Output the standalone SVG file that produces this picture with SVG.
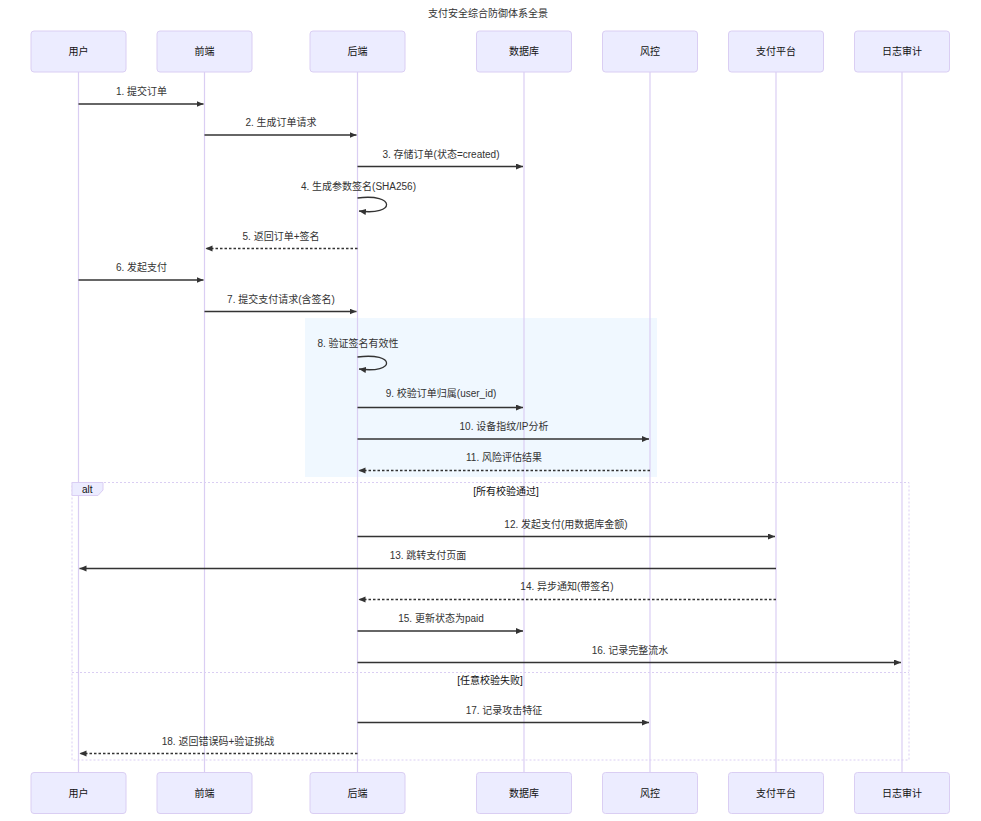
<svg xmlns="http://www.w3.org/2000/svg" width="981" height="821" viewBox="0 0 981 821">
<style>
text{font-family:"Liberation Sans","Noto Sans CJK SC",sans-serif;font-size:10px;fill:#333;}
.actor{fill:#ECECFF;stroke:#DACEF3;stroke-width:1;}
.actor-text{fill:#111;text-anchor:middle;dominant-baseline:central;}
.lifeline{stroke:#DACEF3;stroke-width:1.2;}
.msg{stroke:#333;stroke-width:1.3;fill:none;}
.dash{stroke-dasharray:2.5,2;}
.mt{text-anchor:middle;dominant-baseline:central;}
.loop{fill:none;stroke:#DACEF3;stroke-width:1;stroke-dasharray:2,2;}
</style>
<defs>
<marker id="ah" markerUnits="userSpaceOnUse" markerWidth="8" markerHeight="7" refX="7" refY="3" orient="auto" viewBox="0 0 8 7">
<path d="M0,0 L7,3 L0,6 z" fill="#333"/>
</marker>
</defs>
<rect width="981" height="821" fill="#fff"/>
<text x="488" y="13" class="mt">支付安全综合防御体系全景</text>

<g id="lifelines">
<line class="lifeline" x1="78.5" y1="72" x2="78.5" y2="773"/>
<line class="lifeline" x1="204.5" y1="72" x2="204.5" y2="773"/>
<line class="lifeline" x1="357.5" y1="72" x2="357.5" y2="773"/>
<line class="lifeline" x1="524" y1="72" x2="524" y2="773"/>
<line class="lifeline" x1="650" y1="72" x2="650" y2="773"/>
<line class="lifeline" x1="776" y1="72" x2="776" y2="773"/>
<line class="lifeline" x1="902" y1="72" x2="902" y2="773"/>
</g>

<rect id="highlight" x="305" y="318" width="352" height="159" fill="#F0F8FF"/>
<line class="lifeline" x1="357.5" y1="318" x2="357.5" y2="477"/>
<line class="lifeline" x1="524" y1="318" x2="524" y2="477"/>
<line class="lifeline" x1="650" y1="318" x2="650" y2="477"/>

<g id="participants">
<g id="user"><rect class="actor" x="31" y="31" width="95" height="41" rx="3"/><text class="actor-text" x="78.5" y="51.5">用户</text>
<rect class="actor" x="31" y="772.5" width="95" height="41" rx="3"/><text class="actor-text" x="78.5" y="793">用户</text></g>
<g id="frontend"><rect class="actor" x="157" y="31" width="95" height="41" rx="3"/><text class="actor-text" x="204.5" y="51.5">前端</text>
<rect class="actor" x="157" y="772.5" width="95" height="41" rx="3"/><text class="actor-text" x="204.5" y="793">前端</text></g>
<g id="backend"><rect class="actor" x="310" y="31" width="95" height="41" rx="3"/><text class="actor-text" x="357.5" y="51.5">后端</text>
<rect class="actor" x="310" y="772.5" width="95" height="41" rx="3"/><text class="actor-text" x="357.5" y="793">后端</text></g>
<g id="database"><rect class="actor" x="476.5" y="31" width="95" height="41" rx="3"/><text class="actor-text" x="524" y="51.5">数据库</text>
<rect class="actor" x="476.5" y="772.5" width="95" height="41" rx="3"/><text class="actor-text" x="524" y="793">数据库</text></g>
<g id="risk"><rect class="actor" x="602.5" y="31" width="95" height="41" rx="3"/><text class="actor-text" x="650" y="51.5">风控</text>
<rect class="actor" x="602.5" y="772.5" width="95" height="41" rx="3"/><text class="actor-text" x="650" y="793">风控</text></g>
<g id="payplatform"><rect class="actor" x="728.5" y="31" width="95" height="41" rx="3"/><text class="actor-text" x="776" y="51.5">支付平台</text>
<rect class="actor" x="728.5" y="772.5" width="95" height="41" rx="3"/><text class="actor-text" x="776" y="793">支付平台</text></g>
<g id="audit"><rect class="actor" x="854.5" y="31" width="95" height="41" rx="3"/><text class="actor-text" x="902" y="51.5">日志审计</text>
<rect class="actor" x="854.5" y="772.5" width="95" height="41" rx="3"/><text class="actor-text" x="902" y="793">日志审计</text></g>
</g>

<g id="alt-block">
<rect class="loop" x="72" y="482.5" width="837" height="277.5"/>
<line class="loop" x1="72" y1="672.5" x2="909" y2="672.5"/>
<polygon points="72,482.5 103,482.5 103,490 98,495.5 72,495.5" fill="#ECECFF" stroke="#DACEF3" stroke-width="1"/>
<text x="82" y="489.5" style="dominant-baseline:central;fill:#111">alt</text>
<text class="mt" x="506" y="491" style="fill:#111">[所有校验通过]</text>
<text class="mt" x="490" y="680" style="fill:#111">[任意校验失败]</text>
</g>

<g id="connectors">
<line class="msg" x1="78.5" y1="104" x2="203.5" y2="104" marker-end="url(#ah)"/>
<text class="mt" x="141.5" y="91">1. 提交订单</text>
<line class="msg" x1="204.5" y1="135" x2="356.5" y2="135" marker-end="url(#ah)"/>
<text class="mt" x="281" y="122">2. 生成订单请求</text>
<line class="msg" x1="357.5" y1="166.5" x2="523" y2="166.5" marker-end="url(#ah)"/>
<text class="mt" x="441" y="154">3. 存储订单(状态=created)</text>
<path class="msg" d="M357.5,198 C396,193 396,216 359,211" marker-end="url(#ah)"/>
<text class="mt" x="358.5" y="186">4. 生成参数签名(SHA256)</text>
<line class="msg dash" x1="357.5" y1="248.5" x2="205.5" y2="248.5" marker-end="url(#ah)"/>
<text class="mt" x="281" y="236">5. 返回订单+签名</text>
<line class="msg" x1="78.5" y1="280" x2="203.5" y2="280" marker-end="url(#ah)"/>
<text class="mt" x="141.5" y="267">6. 发起支付</text>
<line class="msg" x1="204.5" y1="311.5" x2="356.5" y2="311.5" marker-end="url(#ah)"/>
<text class="mt" x="281" y="299">7. 提交支付请求(含签名)</text>
<path class="msg" d="M357.5,357 C396,352 396,374 359,369" marker-end="url(#ah)"/>
<text class="mt" x="358" y="343">8. 验证签名有效性</text>
<line class="msg" x1="357.5" y1="407.5" x2="523" y2="407.5" marker-end="url(#ah)"/>
<text class="mt" x="441" y="393">9. 校验订单归属(user_id)</text>
<line class="msg" x1="357.5" y1="439" x2="649" y2="439" marker-end="url(#ah)"/>
<text class="mt" x="504" y="426.5">10. 设备指纹/IP分析</text>
<line class="msg dash" x1="650" y1="470.5" x2="358.5" y2="470.5" marker-end="url(#ah)"/>
<text class="mt" x="504" y="457">11. 风险评估结果</text>
<line class="msg" x1="357.5" y1="536.5" x2="775" y2="536.5" marker-end="url(#ah)"/>
<text class="mt" x="566" y="524">12. 发起支付(用数据库金额)</text>
<line class="msg" x1="776" y1="568.5" x2="79.5" y2="568.5" marker-end="url(#ah)"/>
<text class="mt" x="428" y="555">13. 跳转支付页面</text>
<line class="msg dash" x1="776" y1="599.5" x2="358.5" y2="599.5" marker-end="url(#ah)"/>
<text class="mt" x="567" y="586.5">14. 异步通知(带签名)</text>
<line class="msg" x1="357.5" y1="631" x2="523" y2="631" marker-end="url(#ah)"/>
<text class="mt" x="441" y="618.5">15. 更新状态为paid</text>
<line class="msg" x1="357.5" y1="662.5" x2="901" y2="662.5" marker-end="url(#ah)"/>
<text class="mt" x="630" y="650">16. 记录完整流水</text>
<line class="msg" x1="357.5" y1="722.5" x2="649" y2="722.5" marker-end="url(#ah)"/>
<text class="mt" x="504" y="710">17. 记录攻击特征</text>
<line class="msg dash" x1="357.5" y1="753.5" x2="79.5" y2="753.5" marker-end="url(#ah)"/>
<text class="mt" x="218" y="741.5">18. 返回错误码+验证挑战</text>
</g>
</svg>
